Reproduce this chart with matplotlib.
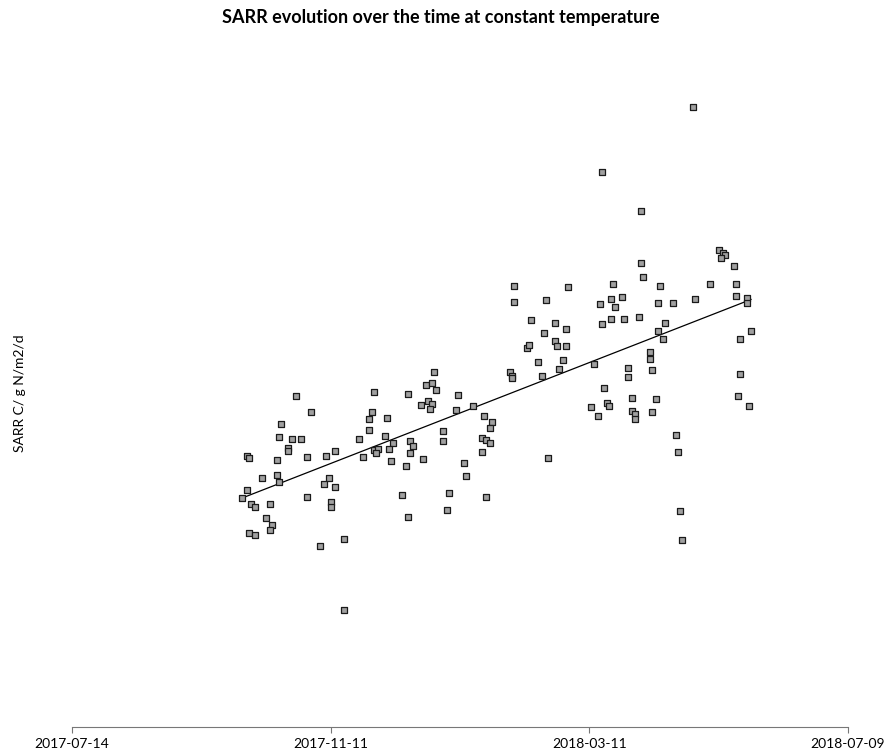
import numpy as np
import matplotlib.pyplot as plt
import matplotlib.dates as mdates

plt.rcParams['font.family'] = ['Lato', 'DejaVu Sans']

start_date = '2017-07-14'
tick_dates = ['2017-07-14', '2017-11-11', '2018-03-11', '2018-07-09']

# days since start_date, and SARR value
days = [104, 111, 97, 96, 102, 106, 100, 100, 81, 82, 95, 109, 118, 122, 133,
        88, 95, 96, 81, 79, 83, 85, 92, 119, 117, 122, 109, 120, 120, 90,
        93, 92, 82, 85, 126, 115, 126,
        168, 164, 167, 169, 140, 156, 179, 162, 165, 167, 166, 178, 186, 139,
        138, 146, 191, 195, 194, 138, 172, 145, 149, 147, 157, 158, 157, 172,
        190, 192, 194, 140, 142, 141, 135, 148, 163, 155, 182, 183, 190, 153,
        175, 192, 174, 156,
        205, 230, 205, 220, 213, 224, 229, 219, 224, 225, 211, 212, 229, 216,
        228, 226, 203, 204, 204, 218, 221,
        246, 264, 264, 265, 251, 273, 245, 250, 252, 255, 272, 279, 246, 250,
        256, 263, 275, 272, 274, 268, 268,
        242, 258, 258, 269, 247, 260, 271, 241, 248, 249, 244, 260, 261, 261,
        269, 280, 281, 282, 283,
        288, 300, 302, 303, 301, 307, 296, 308, 289, 308, 313, 313, 315, 310,
        310, 309, 314]
sarr = [3.31, 3.15, 3.03, 2.90, 2.88, 2.88, 2.79, 2.76, 2.71, 2.69, 2.67, 2.70, 2.71, 2.76, 2.88,
        2.49, 2.52, 2.45, 2.37, 2.29, 2.23, 2.20, 2.23, 2.49, 2.43, 2.40, 2.30, 2.25, 2.20, 2.09,
        2.02, 1.97, 1.94, 1.92, 1.88, 1.81, 1.17,
        3.55, 3.42, 3.44, 3.37, 3.35, 3.33, 3.32, 3.22, 3.26, 3.23, 3.18, 3.17, 3.21, 3.15,
        3.08, 3.09, 3.11, 3.05, 2.99, 2.97, 2.96, 2.91, 2.84, 2.78, 2.86, 2.81, 2.74, 2.86,
        2.89, 2.87, 2.84, 2.77, 2.78, 2.74, 2.70, 2.66, 2.68, 2.61, 2.64, 2.51, 2.75, 2.32,
        2.34, 2.30, 2.17, 2.10,
        4.41, 4.40, 4.25, 4.27, 4.07, 4.04, 3.98, 3.94, 3.86, 3.81, 3.79, 3.82, 3.81, 3.65,
        3.67, 3.58, 3.55, 3.51, 3.49, 3.51, 2.69,
        5.55, 5.16, 4.64, 4.50, 4.43, 4.41, 4.23, 4.28, 4.20, 4.30, 4.24, 4.24, 4.03, 4.08,
        4.08, 4.10, 4.04, 3.96, 3.88, 3.75, 3.68,
        3.63, 3.59, 3.50, 3.57, 3.39, 3.29, 3.28, 3.20, 3.24, 3.21, 3.11, 3.16, 3.13, 3.08,
        3.15, 2.92, 2.75, 2.16, 1.87,
        6.20, 4.77, 4.74, 4.72, 4.69, 4.61, 4.43, 4.43, 4.28, 4.31, 4.29, 4.24, 3.96, 3.88,
        3.53, 3.31, 3.21]

days = np.array(days)
sarr = np.array(sarr)
dates = np.datetime64(start_date) + days.astype('timedelta64[D]')

# linear trend
slope, intercept = np.polyfit(days, sarr, 1)
line_days = np.array([days.min(), days.max()])
line_dates = np.datetime64(start_date) + line_days.astype('timedelta64[D]')

fig = plt.figure(figsize=(8.86, 7.55), dpi=100)
ax = fig.add_axes([0.0813, 0.0371, 0.8758, 0.8834])

ax.scatter(dates, sarr, marker='s', s=20, facecolor='#a0a0a0', edgecolor='#1a1a1a',
           linewidth=0.9, zorder=3)
ax.plot(line_dates, slope * line_days + intercept, color='black', linewidth=0.9, zorder=2)

ax.set_xlim(np.datetime64(tick_dates[0]), np.datetime64(tick_dates[-1]))
ax.set_ylim(0, 6.67)
ax.set_xticks([np.datetime64(d) for d in tick_dates])
ax.xaxis.set_major_formatter(mdates.DateFormatter('%Y-%m-%d'))
ax.tick_params(axis='x', length=4, color='#777777', labelsize=10, pad=4)
ax.set_yticks([])

for side in ['top', 'right', 'left']:
    ax.spines[side].set_visible(False)
ax.spines['bottom'].set_color('#777777')

ax.set_ylabel('SARR C/ g N/m2/d', fontsize=10, labelpad=33)
fig.text(0.498, 0.977, 'SARR evolution over the time at constant temperature',
         ha='center', va='center', fontsize=13, fontweight='bold')

fig.savefig('out.png', dpi=100)
